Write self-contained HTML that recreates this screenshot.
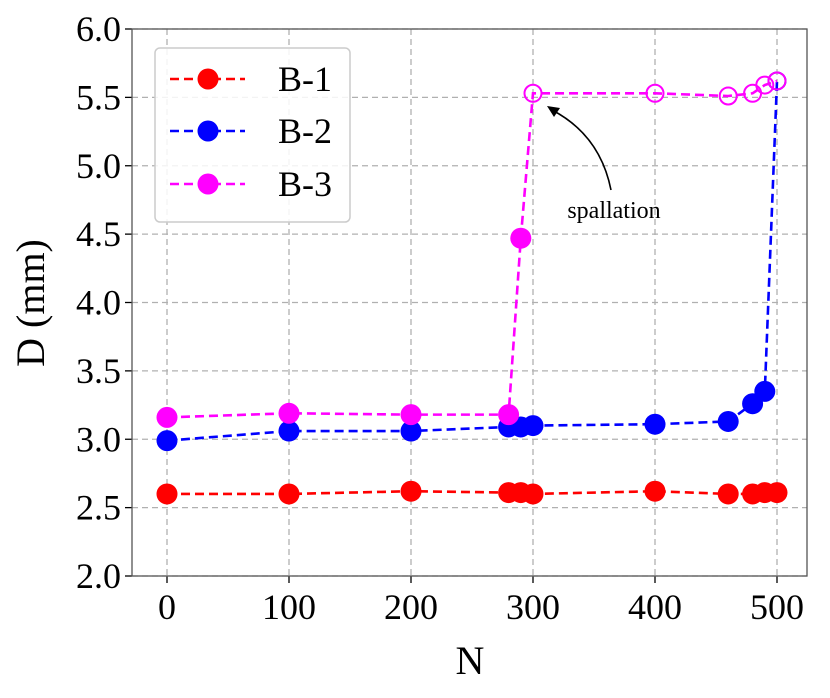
<!DOCTYPE html>
<html><head><meta charset="utf-8"><style>
body{margin:0;background:#fff}
svg text{font-family:"Liberation Serif",serif;fill:#000}
</style></head><body>
<svg id="c" width="830" height="693" xmlns="http://www.w3.org/2000/svg"></svg>
<script>
const nVals=[0,100,200,280,290,300,400,460,480,490,500];
const b1=[2.6,2.6,2.62,2.61,2.61,2.6,2.62,2.6,2.6,2.61,2.61];
const b2=[2.99,3.06,3.06,3.09,3.09,3.1,3.11,3.13,3.26,3.35,5.62];
const b3=[3.16,3.19,3.18,3.18,4.47,5.53,5.53,5.51,5.53,5.59,5.62];
const b2Open=[false,false,false,false,false,false,false,false,false,false,true];
const b3Open=[false,false,false,false,false,true,true,true,true,true,true];
const xTicks=[0,100,200,300,400,500];
const yTicks=[2.0,2.5,3.0,3.5,4.0,4.5,5.0,5.5,6.0];
const L=132,R=807,T=29,B=576;
const X=v=>167+v*1.22, Y=v=>576-(v-2)*136.75;
const s=document.getElementById('c');const NS='http://www.w3.org/2000/svg';
function mk(t,a,p){const e=document.createElementNS(NS,t);for(const k in a)e.setAttribute(k,a[k]);(p||s).appendChild(e);return e;}
xTicks.forEach(v=>{const g=mk('line',{x1:X(v),x2:X(v),y1:T,y2:B,stroke:'#b0b0b0','stroke-dasharray':'6,4','stroke-width':1.3});

mk('line',{x1:X(v),x2:X(v),y1:B,y2:B+7,stroke:'#000','stroke-width':1.3});
const t=mk('text',{x:X(v),y:B+43,'font-size':36,'text-anchor':'middle'});t.textContent=v;
});
yTicks.forEach(v=>{const g=mk('line',{x1:L,x2:R,y1:Y(v),y2:Y(v),stroke:'#b0b0b0','stroke-dasharray':'6,4','stroke-width':1.3});

mk('line',{x1:L-7,x2:L,y1:Y(v),y2:Y(v),stroke:'#000','stroke-width':1.3});
const t=mk('text',{x:L-11,y:Y(v)+12,'font-size':36,'text-anchor':'end'});t.textContent=v.toFixed(1);
});
const fr=mk('rect',{x:L,y:T,width:R-L,height:B-T,fill:'none',stroke:'#555','stroke-width':1.3});

function series(vals,col,open,name){
 const p=mk('polyline',{points:vals.map((v,i)=>X(nVals[i])+','+Y(v)).join(' '),fill:'none',stroke:col,'stroke-width':2.6,'stroke-dasharray':'9,5'});
 
 vals.forEach((v,i)=>{const o=open&&open[i];const c=mk('circle',{cx:X(nVals[i]),cy:Y(v),r:o?8.5:10.5,fill:o?'none':col,stroke:col,'stroke-width':o?2:0});
 });
}
series(b1,'#ff0000',null,'b1');series(b2,'#0000ff',b2Open,'b2');series(b3,'#ff00ff',b3Open,'b3');
const lg=mk('rect',{x:155,y:48,width:195,height:174,rx:5,fill:'#fff','fill-opacity':0.85,stroke:'#ccc','stroke-width':1.5});

[['B-1','#ff0000',79],['B-2','#0000ff',131],['B-3','#ff00ff',184]].forEach(([n,c,y])=>{
 mk('line',{x1:170,x2:245,y1:y,y2:y,stroke:c,'stroke-width':2.6,'stroke-dasharray':'9,5'});
 mk('circle',{cx:208,cy:y,r:10.5,fill:c});
 const t=mk('text',{x:278,y:y+12,'font-size':36});t.textContent=n;
 });
const a=mk('path',{d:'M611,190 Q600,135 552,110',fill:'none',stroke:'#000','stroke-width':1.6});

mk('path',{d:'M547,106 L560,108 L554,117 Z',fill:'#000'});
const at=mk('text',{x:614,y:218,'font-size':24,'text-anchor':'middle'});at.textContent='spallation';

const xl=mk('text',{x:470,y:674,'font-size':40,'text-anchor':'middle'});xl.textContent='N';

const yl=mk('text',{x:0,y:0,'font-size':40,'text-anchor':'middle',transform:'translate(44,303) rotate(-90)'});yl.textContent='D (mm)';

</script>
</body></html>
